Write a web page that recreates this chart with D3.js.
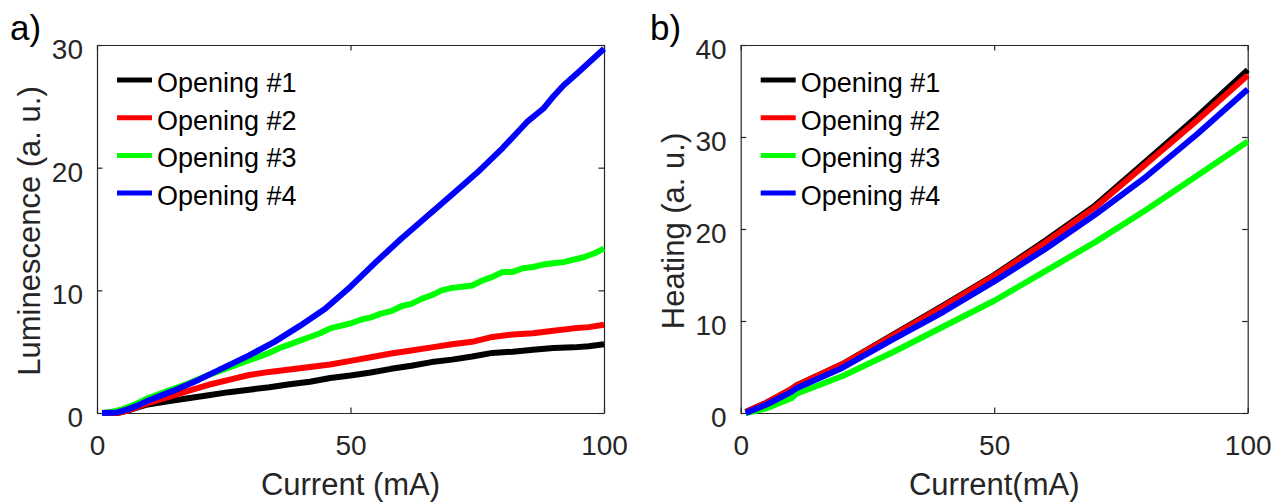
<!DOCTYPE html>
<meta charset="utf-8">
<script src="https://d3js.org/d3.v7.min.js"></script>
<style>
  body { margin: 0; background: #fff; }
  svg text { font-family: "Liberation Sans", Arial, Helvetica, sans-serif; }
</style>
<body>
<div id="chart"></div>
</body>
<script>
// ---- data ----
var legendNames = ["Opening #1", "Opening #2", "Opening #3", "Opening #4"];
var seriesColors = ["#000000", "#ff0000", "#00ff00", "#0000ff"];

// panel a) luminescence vs current, [mA, a.u.]
var lumOpening1 = [[1,0],[4,0],[6,0.2],[8,0.45],[10,0.7],[14,0.95],[18,1.2],[22,1.45],[26,1.7],[30,1.9],[34,2.1],[38,2.35],[42,2.55],[46,2.85],[50,3.05],[54,3.3],[58,3.6],[62,3.85],[66,4.15],[70,4.35],[74,4.6],[78,4.9],[82,5.0],[86,5.15],[90,5.3],[94,5.35],[97,5.45],[100,5.6]];
var lumOpening2 = [[1,0],[4,0],[6,0.2],[8,0.5],[10,0.8],[14,1.3],[18,1.8],[22,2.3],[26,2.7],[30,3.1],[34,3.35],[38,3.55],[42,3.75],[46,3.95],[50,4.25],[54,4.55],[58,4.85],[62,5.1],[66,5.35],[70,5.6],[74,5.8],[78,6.2],[82,6.4],[86,6.5],[90,6.7],[94,6.9],[97,7.0],[100,7.2]];
var lumOpening3 = [[1,0],[3,0.1],[5,0.3],[8,0.8],[10,1.2],[14,1.8],[18,2.4],[22,3.1],[26,3.7],[30,4.3],[32,4.6],[34,4.9],[36,5.3],[38,5.6],[40,5.9],[42,6.2],[44,6.5],[46,6.9],[48,7.1],[50,7.3],[52,7.6],[54,7.8],[56,8.1],[58,8.3],[60,8.7],[62,8.9],[64,9.3],[66,9.6],[68,10.0],[70,10.2],[72,10.3],[74,10.4],[76,10.8],[78,11.1],[80,11.5],[82,11.5],[84,11.8],[86,11.9],[88,12.1],[90,12.2],[92,12.3],[94,12.5],[96,12.7],[98,13.0],[100,13.4]];
var lumOpening4 = [[1,0],[4,0.05],[6,0.3],[8,0.6],[10,1.0],[15,1.8],[20,2.7],[25,3.7],[30,4.7],[35,5.8],[40,7.1],[45,8.5],[50,10.3],[55,12.3],[60,14.2],[65,16.0],[70,17.8],[75,19.6],[80,21.6],[85,23.8],[88,24.8],[90,25.8],[92,26.7],[95,27.8],[100,29.7]];

// panel b) heating vs current
var heatCurrent = [1, 5, 10, 11, 20, 30, 40, 50, 60, 70, 80, 90, 100];
var heatOpening1 = [0.1, 1.1, 2.6, 3.0, 5.3, 8.5, 11.7, 15.0, 18.7, 22.6, 27.4, 32.2, 37.3];
var heatOpening2 = [0.1, 1.1, 2.6, 3.0, 5.3, 8.4, 11.6, 14.9, 18.5, 22.4, 27.1, 31.8, 36.7];
var heatOpening3 = [0.0, 0.5, 1.6, 2.1, 4.0, 6.6, 9.4, 12.2, 15.4, 18.6, 22.1, 25.8, 29.5];
var heatOpening4 = [0.0, 0.9, 2.3, 2.7, 4.9, 8.0, 11.0, 14.3, 17.8, 21.6, 25.7, 30.3, 35.2];

var xTicks = [0, 50, 100];
var lumTicks = [0, 10, 20, 30];
var heatTicks = [0, 10, 20, 30, 40];

var width = 1276, height = 504;
var axisColor = "#262626";

var svg = d3.select("#chart")
  .append("svg")
  .attr("width", width)
  .attr("height", height);

function drawPanel(opt) {
  var x = d3.scaleLinear().domain([0, 100]).range([opt.left, opt.right]);
  var y = d3.scaleLinear().domain(opt.yDomain).range([opt.bottom, opt.top]);

  var g = svg.append("g");

  // bottom axis with labels
  g.append("g")
    .attr("transform", "translate(0," + opt.bottom + ")")
    .call(d3.axisBottom(x).tickValues(xTicks).tickSizeInner(-5.5).tickSizeOuter(0).tickPadding(22));
  // left axis with labels
  var ly = g.append("g")
    .attr("transform", "translate(" + opt.left + ",0)")
    .call(d3.axisLeft(y).tickValues(opt.yTicks).tickSizeInner(-5.5).tickSizeOuter(0).tickPadding(14));
  ly.selectAll("text").attr("dy", "0.48em");
  // mirrored top/right box sides
  g.append("g")
    .attr("transform", "translate(0," + opt.top + ")")
    .call(d3.axisTop(x).tickValues(xTicks).tickSizeInner(-5.5).tickSizeOuter(0).tickFormat(""));
  g.append("g")
    .attr("transform", "translate(" + opt.right + ",0)")
    .call(d3.axisRight(y).tickValues(opt.yTicks).tickSizeInner(-5.5).tickSizeOuter(0).tickFormat(""));

  g.selectAll(".domain, .tick line")
    .attr("stroke", axisColor)
    .attr("stroke-width", 1.2);
  g.selectAll(".tick text")
    .attr("fill", axisColor)
    .attr("font-size", 28)
    .attr("font-family", "Liberation Sans, Arial, sans-serif");

  // axis labels
  g.append("text")
    .attr("x", (opt.left + opt.right) / 2)
    .attr("y", 495)
    .attr("text-anchor", "middle")
    .attr("font-size", 31)
    .attr("fill", axisColor)
    .text(opt.xLabel);

  g.append("text")
    .attr("transform", "translate(" + (opt.left - 57) + "," + ((opt.top + opt.bottom) / 2 + 2) + ") rotate(-90)")
    .attr("text-anchor", "middle")
    .attr("font-size", 31)
    .attr("fill", axisColor)
    .text(opt.yLabel);

  // panel letter
  g.append("text")
    .attr("x", opt.letterX)
    .attr("y", 40)
    .attr("font-size", 35)
    .attr("fill", "#000")
    .text(opt.letter);

  // data lines
  var line = d3.line()
    .x(function(d) { return x(d[0]); })
    .y(function(d) { return y(d[1]); });

  opt.series.forEach(function(s, i) {
    g.append("path")
      .datum(s)
      .attr("fill", "none")
      .attr("stroke", seriesColors[i])
      .attr("stroke-width", 6)
      .attr("stroke-linejoin", "round")
      .attr("d", line);
  });

  // legend (no box)
  var lg = g.append("g");
  legendNames.forEach(function(name, i) {
    var yy = 80 + i * 37.7;
    lg.append("line")
      .attr("x1", opt.left + 20).attr("x2", opt.left + 55)
      .attr("y1", yy).attr("y2", yy)
      .attr("stroke", seriesColors[i])
      .attr("stroke-width", 5);
    lg.append("text")
      .attr("x", opt.left + 60)
      .attr("y", yy + 12)
      .attr("font-size", 27)
      .attr("fill", "#000")
      .text(name);
  });
}

function zipSeries(xs, ys) {
  return xs.map(function(v, i) { return [v, ys[i]]; });
}

drawPanel({
  left: 97, right: 604, top: 45, bottom: 413,
  yDomain: [0, 30], yTicks: lumTicks,
  xLabel: "Current (mA)", yLabel: "Luminescence (a. u.)",
  letter: "a)", letterX: 10,
  series: [lumOpening1, lumOpening2, lumOpening3, lumOpening4]
});

drawPanel({
  left: 740.7, right: 1247.7, top: 45, bottom: 413,
  yDomain: [0, 40], yTicks: heatTicks,
  xLabel: "Current(mA)", yLabel: "Heating (a. u.)",
  letter: "b)", letterX: 650,
  series: [zipSeries(heatCurrent, heatOpening1), zipSeries(heatCurrent, heatOpening2),
           zipSeries(heatCurrent, heatOpening3), zipSeries(heatCurrent, heatOpening4)]
});
</script>
